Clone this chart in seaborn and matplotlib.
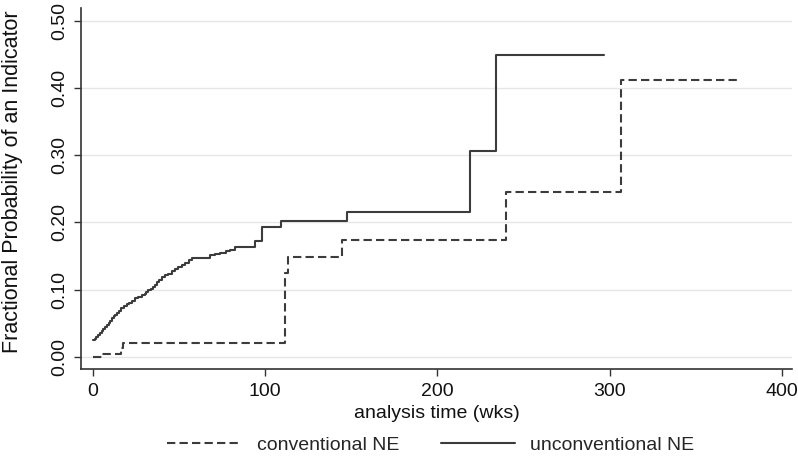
import pandas as pd
import matplotlib
matplotlib.use("Agg")
import matplotlib.pyplot as plt
import seaborn as sns

# unconventional NE (solid) - step times (wks) and cumulative probability
unconv_t = [0, 1, 2, 3, 4, 5, 6, 7, 8, 9, 10, 11, 12, 13, 14, 15, 16.5, 18, 19.6, 21,
            22.5, 24.4, 26, 28.3, 30, 31, 32.2, 33.5, 35, 36, 37, 38.5, 40, 41.9,
            43.5, 45.7, 47.5, 49.6, 51.5, 53.5, 55.5, 57.4, 62, 68, 71, 73.8, 77,
            79.7, 82.6, 94.2, 98, 109, 147.5, 219, 234, 296.5]
unconv_p = [0.025, 0.027, 0.030, 0.033, 0.036, 0.039, 0.042, 0.045, 0.048, 0.051,
            0.054, 0.058, 0.061, 0.063, 0.065, 0.068, 0.072, 0.075, 0.078, 0.080,
            0.083, 0.087, 0.089, 0.092, 0.094, 0.096, 0.099, 0.101, 0.104, 0.107,
            0.111, 0.115, 0.119, 0.122, 0.124, 0.127, 0.130, 0.134, 0.137, 0.140,
            0.144, 0.147, 0.147, 0.152, 0.153, 0.155, 0.157, 0.159, 0.164, 0.172,
            0.193, 0.202, 0.215, 0.306, 0.449, 0.449]

# conventional NE (dashed)
conv_t = [0, 5, 16.5, 17.5, 111.6, 113.5, 144.6, 240, 306.4, 376.5]
conv_p = [0.000, 0.005, 0.013, 0.021, 0.125, 0.148, 0.174, 0.245, 0.412, 0.412]

x_ticks = [0, 100, 200, 300, 400]
y_ticks = [0.0, 0.1, 0.2, 0.3, 0.4, 0.5]

df_unconv = pd.DataFrame({"time": unconv_t, "prob": unconv_p})
df_conv = pd.DataFrame({"time": conv_t, "prob": conv_p})

sns.set_style("white")
plt.rcParams["font.family"] = ["Liberation Sans", "DejaVu Sans"]
plt.rcParams["lines.scale_dashes"] = False

line_col = "#3c3c3c"
txt_col = "#111111"

fig = plt.figure(figsize=(7.98, 4.63), dpi=100)
ax = fig.add_axes([0.1015, 0.203, 0.891, 0.780])

sns.lineplot(data=df_conv, x="time", y="prob", ax=ax, color=line_col, lw=1.5,
             drawstyle="steps-post", estimator=None, linestyle=(0, (6.0, 3.0)),
             label="conventional NE")
sns.lineplot(data=df_unconv, x="time", y="prob", ax=ax, color=line_col, lw=1.5,
             drawstyle="steps-post", estimator=None, label="unconventional NE")

ax.set_xlim(-7, 406)
ax.set_ylim(-0.018, 0.519)
ax.set_xticks(x_ticks)
ax.set_xticklabels([str(v) for v in x_ticks])
ax.set_yticks(y_ticks)
ax.set_yticklabels([f"{v:.2f}" for v in y_ticks], rotation=90, va="center")

for v in y_ticks:
    ax.axhline(v, color="#e6e6e6", lw=1.0, zorder=0)

sns.despine(ax=ax)
for s in ["left", "bottom"]:
    ax.spines[s].set_color("#333333")
    ax.spines[s].set_linewidth(1.2)

ax.tick_params(axis="both", direction="out", length=5, width=1.0, color="#333333",
               labelsize=14, labelcolor=txt_col, left=True, bottom=True)
ax.tick_params(axis="x", pad=5)
ax.tick_params(axis="y", pad=4)

ax.set_xlabel("analysis time (wks)", fontsize=14, color=txt_col, labelpad=4)
ax.set_ylabel("Fractional Probability of an Indicator", fontsize=15.5, color=txt_col)
ax.yaxis.set_label_coords(-0.081, 0.52)

ax.legend(loc="upper center", bbox_to_anchor=(0.492, -0.138), ncol=2, frameon=False,
          fontsize=14, handlelength=3.8, columnspacing=2.15, handletextpad=0.8)

fig.savefig("out.png", dpi=100)
